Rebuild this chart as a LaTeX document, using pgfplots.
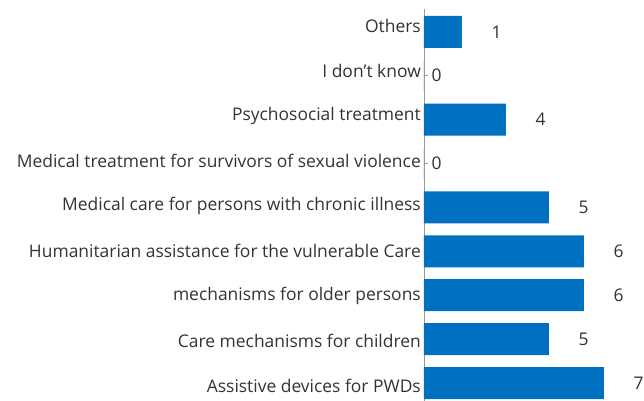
\documentclass[border=0pt]{standalone}
\usepackage{pgfplots}
\pgfplotsset{compat=1.18}
\usepackage{fontspec}
\setmainfont{Open Sans}
\definecolor{barblue}{RGB}{0,112,192}
\definecolor{txt}{RGB}{51,51,51}
\begin{document}
\begin{tikzpicture}
\begin{axis}[
  name=ax,
  scale only axis,
  width=200bp, height=392bp,
  xmin=0, xmax=10,
  ymin=-0.41, ymax=8.52,
  axis x line=none,
  axis y line*=left,
  axis line style={draw=gray!80, line width=0.8pt, -},
  ytick={0,1,2,3,4,5,6,7,8},
  yticklabels={Assistive devices for PWDs, Care mechanisms for children, mechanisms for older persons, Humanitarian assistance for the vulnerable Care, Medical care for persons with chronic illness, Medical treatment for survivors of sexual violence, Psychosocial treatment, I don't know, Others},
  ytick align=inside,
  ytick pos=left,
  major tick length=4bp,
  every tick/.style={draw=gray!80, line width=0.8pt, xshift=4bp},
  yticklabel style={font=\fontsize{17.5}{20}\selectfont, text=txt, inner sep=0pt, xshift=1bp, yshift={(-2.8+1.1*\ticknum)*1bp}},
  xbar, bar width=32bp, bar shift=0pt,
  point meta=explicit symbolic,
  nodes near coords,
  nodes near coords style={font=\fontsize{17.5}{20}\selectfont, text=txt, anchor=west},
]
\addplot[draw=none, fill=barblue, nodes near coords style={xshift=26bp}] table[meta=lab] {
x y lab
9.0 0 7
6.25 1 5
8.0 2 6
8.0 3 6
6.25 4 5
4.1 6 4
1.9 8 1
};
\addplot[draw=none, fill=barblue, nodes near coords style={xshift=4bp}] table[meta=lab] {
x y lab
0 5 0
0 7 0
};
\end{axis}
\pgfresetboundingbox
\path ([xshift=-424bp]ax.south west) rectangle ([xshift=20bp,yshift=9bp]ax.north east);
\end{tikzpicture}
\end{document}
